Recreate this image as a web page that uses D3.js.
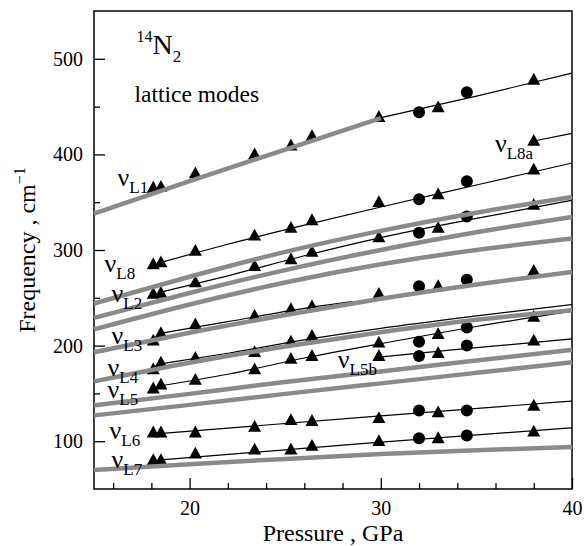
<!DOCTYPE html>
<html>
<head>
<meta charset="utf-8">
<script src="https://cdn.jsdelivr.net/npm/d3@7"></script>
<style>
	body { margin: 0; background: #fff; }
	text { font-family: "Liberation Serif", "DejaVu Serif", serif; fill: #000; }
	.tick text { font-size: 20px; }
	.tick line { stroke: #000; stroke-width: 1.3; }
	.fit { fill: none; stroke: #000; stroke-width: 1.2; }
	.calc { fill: none; stroke: #8a8a8a; stroke-width: 4.5; }
</style>
</head>
<body>
<div id="chart"></div>
<script>
// measured points: triangles and circles share these pressures (GPa)
var triPressure = [18.1, 18.5, 20.3, 23.4, 25.3, 26.4, 29.9, 33.0, 38.0]
var dotPressure = [32.0, 34.5]

var triL1  = [365, 366, 380, 400, 409, 419, 439, 449, 478]
var dotL1  = [444, 465]
var triL8a = [null, null, null, null, null, null, null, null, 414]
var triL8  = [285, 287, 299, 315, 323, 331, 350, 358, 384]
var dotL8  = [353, 372]
var triL2  = [254, 255, 266, 283, 290, 298, 313, 323, 347]
var dotL2  = [318, 335]
var triL3  = [205, 213, 222, 231, 238, 241, 254, 262, 278]
var dotL3  = [262, 269]
var triL4  = [175, 182, 187, 193, 204, 210, null, null, null]
var triL5  = [155, 159, 164, 175, 186, 189, 203, 212, 230]
var dotL5  = [204, 219]
var triL5b = [null, null, null, null, null, null, 189, 192, 205]
var dotL5b = [189, 200]
var triL6  = [109, 109, 109, 115, 122, 121, 124, 130, 137]
var dotL6  = [132, 132]
var triL7  = [80, 80, 87, 91, 91, 95, 100, 103, 110]
var dotL7  = [103, 106]

// thin black fits [pressure, frequency]
var fitL1  = [[29.9, 438], [35, 461], [40, 485]]
var fitL8a = [[38, 414], [40, 422]]
var fitL8  = [[18.5, 287], [22, 306], [26, 326], [30, 345], [35, 368], [40, 391]]
var fitL2  = [[18.5, 256], [22, 273], [26, 294], [30, 313], [35, 333], [40, 352]]
var fitL3  = [[18.5, 213], [22, 225], [26, 239], [28.5, 246]]
var fitL4  = [[18.5, 181], [22, 192], [26, 206], [30, 218], [35, 231], [40, 243]]
var fitL5  = [[18.5, 158], [22, 170], [26, 187], [30, 202], [35, 220], [40, 236]]
var fitL5b = [[29.9, 188], [34, 196], [40, 207]]
var fitL6  = [[18.5, 108], [29, 125], [40, 142]]
var fitL7  = [[18.5, 80.5], [29, 97.5], [40, 114]]

// thick grey calculated curves
var calcPressure = [15, 20, 25, 30, 35, 40]
var calcL1  = [338, 372, 405, 438, null, null]
var calcA   = [244, 272, 298, 320, 339, 355.5]
var calcB   = [229, 255, 279, 300, 318.5, 334.5]
var calcC   = [217, 243, 266, 285, 300, 312]
var calcL3  = [193, 213.5, 232, 249, 264, 277]
var calcL4  = [162.5, 182, 199, 214, 227, 237]
var calcL5a = [137.5, 149.5, 162, 173, 184.5, 195.5]
var calcL5c = [127, 138, 149.5, 160.5, 171.5, 182.5]
var calcL7  = [70, 76, 81.5, 86.5, 90.5, 94]

// mode labels, anchored in data units
var labelNames    = ["L1", "L8", "L2", "L3", "L4", "L5", "L6", "L7", "L5b", "L8a"]
var labelPressure = [16.23, 15.55, 15.92, 15.92, 15.71, 15.71, 15.81, 15.92, 27.75, 35.97]
var labelFreq     = [366.6, 277, 245.7, 201.9, 168.5, 145.6, 101.8, 71.5, 176.6, 402.7]

var xMajor = [20, 30, 40]
var xMinor = [16, 18, 22, 24, 26, 28, 32, 34, 36, 38]
var yMajor = [100, 200, 300, 400, 500]
var yMinor = [150, 250, 350, 450]

var WIDTH = 585, HEIGHT = 546
var margin = {left: 94, top: 11, right: 13, bottom: 57}

var x = d3.scaleLinear().domain([15, 40]).range([margin.left, WIDTH - margin.right])
var y = d3.scaleLinear().domain([50, 550]).range([HEIGHT - margin.bottom, margin.top])

var svg = d3.select("#chart").append("svg")
	.attr("width", WIDTH)
	.attr("height", HEIGHT)

function zipPoints(pressures, freqs){
	return pressures.map(function(p, i){ return [p, freqs[i]] })
		.filter(function(d){ return d[1] != null })
}

function buildAxes(){
	var bottom = HEIGHT - margin.bottom
	svg.append("g")
		.attr("transform", "translate(0," + bottom + ")")
		.call(d3.axisBottom(x).tickValues(xMajor).tickSize(-11).tickPadding(12).tickFormat(d3.format("d")))
		.call(function(g){ g.select(".domain").remove() })
	svg.append("g")
		.attr("transform", "translate(0," + bottom + ")")
		.call(d3.axisBottom(x).tickValues(xMinor).tickSize(-6).tickFormat(""))
		.call(function(g){ g.select(".domain").remove() })
	svg.append("g")
		.attr("transform", "translate(" + margin.left + ",0)")
		.call(d3.axisLeft(y).tickValues(yMajor).tickSize(-11).tickPadding(11).tickFormat(d3.format("d")))
		.call(function(g){ g.select(".domain").remove() })
	svg.append("g")
		.attr("transform", "translate(" + margin.left + ",0)")
		.call(d3.axisLeft(y).tickValues(yMinor).tickSize(-6).tickFormat(""))
		.call(function(g){ g.select(".domain").remove() })

	svg.append("rect")
		.attr("x", margin.left)
		.attr("y", margin.top)
		.attr("width", WIDTH - margin.left - margin.right)
		.attr("height", HEIGHT - margin.top - margin.bottom)
		.attr("fill", "none")
		.attr("stroke", "#000")
		.attr("stroke-width", 1.5)

	svg.append("text")
		.attr("x", (margin.left + WIDTH - margin.right) / 2)
		.attr("y", 541)
		.attr("text-anchor", "middle")
		.style("font-size", "24px")
		.text("Pressure , GPa")

	var ytitle = svg.append("text")
		.attr("transform", "translate(35," + ((margin.top + bottom) / 2) + ") rotate(-90)")
		.attr("text-anchor", "middle")
		.style("font-size", "24px")
	ytitle.append("tspan").text("Frequency , cm")
	ytitle.append("tspan").attr("dy", -10).style("font-size", "16px").text("−1")
}

function buildFits(){
	var line = d3.line()
		.x(function(d){ return x(d[0]) })
		.y(function(d){ return y(d[1]) })
		.curve(d3.curveMonotoneX)

	var fits = [fitL1, fitL8a, fitL8, fitL2, fitL3, fitL4, fitL5, fitL5b, fitL6, fitL7]
	svg.selectAll(".fit")
		.data(fits)
		.enter()
		.append("path")
		.attr("class", "fit")
		.attr("d", line)
}

function buildMarkers(){
	var tris = [triL1, triL8a, triL8, triL2, triL3, triL4, triL5, triL5b, triL6, triL7]
	var dots = [dotL1, dotL8, dotL2, dotL3, dotL5, dotL5b, dotL6, dotL7]

	var triData = []
	tris.forEach(function(t){ triData = triData.concat(zipPoints(triPressure, t)) })
	var dotData = []
	dots.forEach(function(t){ dotData = dotData.concat(zipPoints(dotPressure, t)) })

	svg.selectAll(".tri")
		.data(triData)
		.enter()
		.append("path")
		.attr("class", "tri")
		.attr("d", "M0,-7L6.5,4.8L-6.5,4.8Z")
		.attr("transform", function(d){ return "translate(" + x(d[0]) + "," + y(d[1]) + ")" })
		.attr("fill", "#000")

	svg.selectAll(".dot")
		.data(dotData)
		.enter()
		.append("circle")
		.attr("class", "dot")
		.attr("cx", function(d){ return x(d[0]) })
		.attr("cy", function(d){ return y(d[1]) })
		.attr("r", 6)
		.attr("fill", "#000")
}

function buildCalc(){
	var line = d3.line()
		.defined(function(d){ return d[1] != null })
		.x(function(d){ return x(d[0]) })
		.y(function(d){ return y(d[1]) })
		.curve(d3.curveNatural)

	var calcs = [calcL1, calcA, calcB, calcC, calcL3, calcL4, calcL5a, calcL5c, calcL7]
	svg.selectAll(".calc")
		.data(calcs.map(function(c){ return zipPoints(calcPressure, c) }))
		.enter()
		.append("path")
		.attr("class", "calc")
		.attr("d", line)
}

function buildLabels(){
	var labels = svg.selectAll(".modeLabel")
		.data(labelNames)
		.enter()
		.append("text")
		.attr("class", "modeLabel")
		.attr("x", function(d, i){ return x(labelPressure[i]) })
		.attr("y", function(d, i){ return y(labelFreq[i]) })
		.style("font-size", "26px")
	labels.append("tspan").text("ν")
	labels.append("tspan")
		.attr("dy", 7)
		.style("font-size", "17px")
		.text(function(d){ return d })

	var n2 = svg.append("text")
		.attr("x", x(17.28) - 1)
		.attr("y", y(505.3))
	n2.append("tspan").attr("dy", -12).style("font-size", "16px").text("14")
	n2.append("tspan").attr("dy", 12).style("font-size", "28px").text("N")
	n2.append("tspan").attr("dy", 8).style("font-size", "17px").text("2")

	svg.append("text")
		.attr("x", x(17.12))
		.attr("y", y(454.8))
		.style("font-size", "23.5px")
		.text("lattice modes")
}

buildAxes()
buildFits()
buildMarkers()
buildCalc()
buildLabels()
</script>
</body>
</html>
